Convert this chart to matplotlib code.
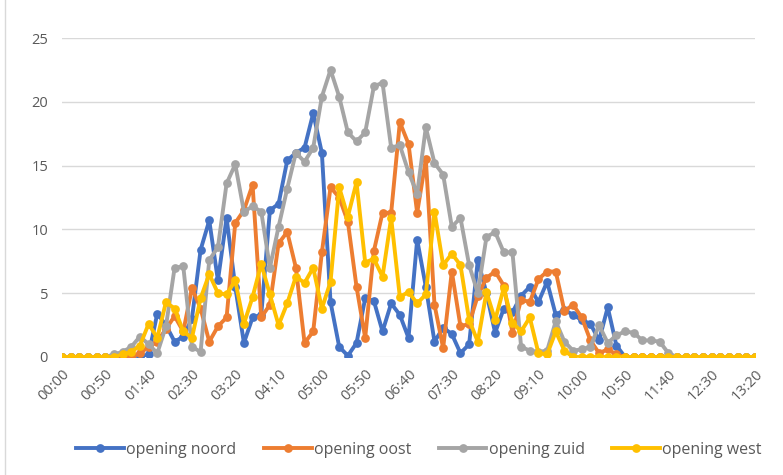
import matplotlib
matplotlib.use("Agg")
import matplotlib.pyplot as plt
from matplotlib.lines import Line2D

# time labels every 10 minutes from 00:00 to 13:20
times = [f"{m // 60:02d}:{m % 60:02d}" for m in range(0, 801, 10)]

noord = [0, 0, 0, 0, 0, 0, 0, 0, 0, 0,
         0.2, 3.4, 2.5, 1.2, 1.6, 3.0, 8.4, 10.7, 6.0, 10.9,
         5.5, 1.1, 3.1, 3.3, 11.5, 12.0, 15.4, 16.0, 16.4, 19.1,
         16.0, 4.3, 0.8, 0.1, 1.1, 4.6, 4.4, 2.0, 4.2, 3.3,
         1.5, 9.2, 5.5, 1.2, 2.3, 1.8, 0.3, 1.0, 7.6, 5.0,
         1.9, 3.8, 3.5, 4.8, 5.5, 4.3, 5.9, 3.3, 3.7, 3.3,
         2.9, 2.6, 1.3, 3.9, 0.9, 0, 0, 0, 0, 0,
         0, 0, 0, 0, 0, 0, 0, 0, 0, 0, 0]
oost = [0, 0, 0, 0, 0, 0, 0, 0, 0, 0.3,
        0.8, 1.2, 2.2, 3.2, 2.0, 5.4, 3.8, 1.2, 2.4, 3.1,
        10.5, 11.5, 13.5, 3.1, 4.1, 8.9, 9.8, 7.0, 1.1, 2.0,
        8.2, 13.3, 12.5, 10.6, 5.5, 1.5, 8.3, 11.3, 11.3, 18.4,
        16.7, 11.3, 15.5, 4.1, 0.7, 6.7, 2.4, 2.6, 4.8, 6.2,
        6.7, 5.6, 1.9, 4.5, 4.3, 6.1, 6.7, 6.7, 3.6, 4.1,
        3.1, 1.3, 0.3, 0.6, 0.2, 0, 0, 0, 0, 0,
        0, 0, 0, 0, 0, 0, 0, 0, 0, 0, 0]
zuid = [0, 0, 0, 0, 0, 0, 0.2, 0.4, 0.8, 1.6,
        1.0, 0.3, 2.4, 7.0, 7.1, 0.8, 0.4, 7.6, 8.6, 13.6,
        15.1, 11.4, 11.8, 11.4, 7.0, 10.2, 13.2, 16.0, 15.3, 16.4,
        20.4, 22.5, 20.4, 17.6, 16.9, 17.6, 21.2, 21.5, 16.4, 16.6,
        14.5, 12.8, 18.0, 15.2, 14.3, 10.2, 10.9, 7.2, 5.0, 9.4,
        9.8, 8.2, 8.2, 0.8, 0.5, 0.4, 0.5, 2.8, 1.2, 0.5,
        0.6, 0.8, 2.5, 1.1, 1.7, 2.0, 1.9, 1.3, 1.3, 1.2,
        0.3, 0, 0, 0, 0, 0, 0, 0, 0, 0, 0]
west = [0, 0, 0, 0, 0, 0, 0, 0.2, 0.4, 0.9,
        2.6, 1.5, 4.3, 3.8, 2.0, 1.5, 4.6, 6.5, 5.0, 4.9,
        6.0, 2.6, 4.7, 7.3, 4.9, 2.5, 4.2, 6.3, 5.8, 7.0,
        3.8, 5.9, 13.3, 11.0, 13.7, 7.4, 7.7, 6.3, 10.9, 4.7,
        5.1, 4.2, 4.9, 11.4, 7.2, 8.1, 7.2, 2.9, 1.2, 5.1,
        2.9, 5.4, 2.7, 2.0, 3.1, 0.3, 0.2, 2.0, 0.5, 0,
        0, 0, 0, 0, 0, 0, 0, 0, 0, 0,
        0, 0, 0, 0, 0, 0, 0, 0, 0, 0, 0]

series = [("opening noord", noord, "#4472C4"),
          ("opening oost", oost, "#ED7D31"),
          ("opening zuid", zuid, "#A5A5A5"),
          ("opening west", west, "#FFC000")]

plt.rcParams['font.family'] = ['Open Sans', 'DejaVu Sans']

fig = plt.figure(figsize=(7.83, 4.75), dpi=100)
ax = fig.add_axes([62 / 783, 1 - 357 / 475, 693 / 783, 319 / 475])

x = list(range(len(times)))
handles = []
for name, vals, col in series:
    ax.plot(x, vals, color=col, lw=2.8, marker='o', markersize=6.3,
            markeredgewidth=0, label=name, zorder=3)
    handles.append(Line2D([0], [0], color=col, lw=2.8, marker='o',
                          markersize=6.3, markeredgewidth=0))

ax.set_xlim(0, len(times) - 1)
ax.set_ylim(0, 25)
ax.set_yticks([0, 5, 10, 15, 20, 25])
ax.yaxis.grid(True, color='#D9D9D9', lw=1)
ax.set_axisbelow(True)
for s in ax.spines.values():
    s.set_visible(False)

ax.set_xticks(x[::5])
ax.set_xticklabels(times[::5], rotation=45, ha='right', rotation_mode='anchor',
                   fontsize=10.5, color='#595959')
ax.tick_params(axis='x', length=0, pad=7)
ax.tick_params(axis='y', length=0, labelsize=10.5, labelcolor='#595959', pad=10)

fig.legend(handles, [s[0] for s in series], loc='center',
           bbox_to_anchor=(419 / 783, 1 - 450 / 475), ncol=4, frameon=False,
           fontsize=11.5, handlelength=3.0, columnspacing=1.7,
           handletextpad=0.15, labelcolor='#595959')

fig.add_artist(Line2D([5 / 783, 5 / 783], [0, 1], color='#D9D9D9', lw=1,
                      transform=fig.transFigure))

fig.savefig("out.png", dpi=100)
